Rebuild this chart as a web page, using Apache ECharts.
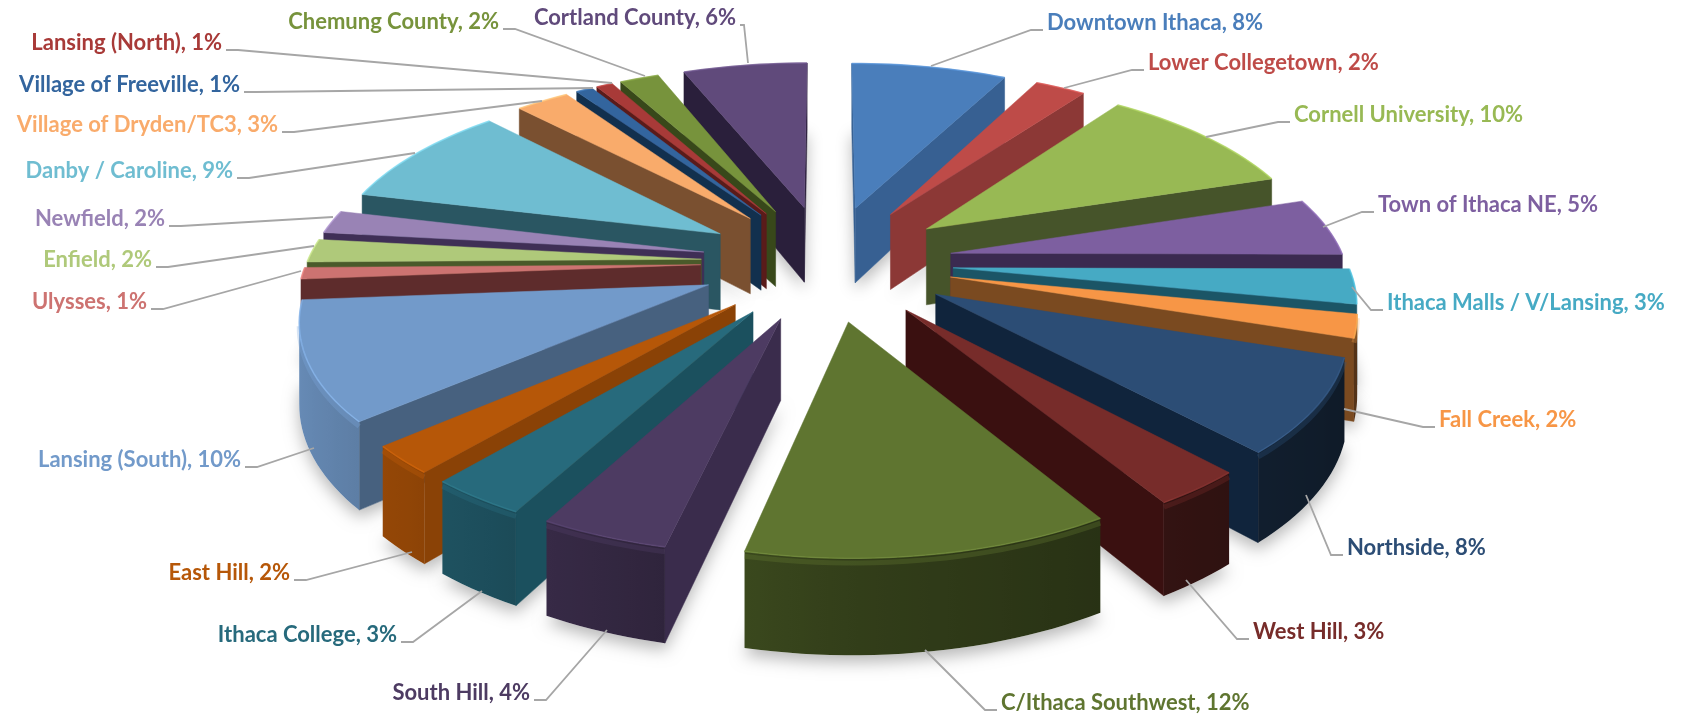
<!DOCTYPE html>
<html><head><meta charset="utf-8">
<style>html,body{margin:0;padding:0;background:#fff}#c{width:1691px;height:716px}</style>
<script src="https://cdn.jsdelivr.net/npm/echarts@6/dist/echarts.min.js"></script></head>
<body><div id="c"></div>
<script>
const categories = ["Downtown Ithaca","Lower Collegetown","Cornell University","Town of Ithaca NE","Ithaca Malls / V/Lansing","Fall Creek","Northside","West Hill","C/Ithaca Southwest","South Hill","Ithaca College","East Hill","Lansing (South)","Ulysses","Enfield","Newfield","Danby / Caroline","Village of Dryden/TC3","Village of Freeville","Lansing (North)","Chemung County","Cortland County"];
const values = [7.5,2.45,10,5,3,2,8,3.1,12.2,4.3,3.3,2.4,10.1,1,2,2,9,2.6,0.8,0.8,1.9,6];
const topColors = ["#4A7EBB","#BE4B48","#98B954","#7D5FA0","#46AAC4","#F79646","#2C4D75","#772C2A","#5F7530","#4D3B62","#276A7C","#B65708","#729ACA","#CD7371","#AFC97A","#9983B5","#6FBDD1","#F9AB6B","#33659E","#A83A38","#77933C","#604A7B"];
const wallColors = ["#376092","#8C3836","#46542A","#3B2A50","#1B5566","#7A4A20","#10243C","#3A1010","#2E3914","#3A2C4C","#1B505E","#8A4206","#47617F","#5E2C2C","#4A5A2A","#3F2F56","#2A5662","#7A5030","#12304E","#5A1B1A","#38481A","#2A1F3B"];
// label layout: x, y, align; leader: where the line meets the slice
const labelPos = [[1047,23,"left"],[1148,63,"left"],[1294,115,"left"],[1378,205,"left"],[1387,303,"left"],[1439,420,"left"],[1347,548,"left"],[1253,632,"left"],[1001,703,"left"],[530,693,"right"],[397,635,"right"],[290,573,"right"],[241,460,"right"],[147,302,"right"],[152,260,"right"],[165,219,"right"],[233,171,"right"],[278,125,"right"],[240,85,"right"],[222,43,"right"],[499,22,"right"],[736,18,"right"]];
const leaderEnds = [[931,66],[1064,88],[1206,137],[1323,227],[1352,287],[1344,409],[1306,495],[1186,580],[925,650],[607,630],[482,591],[412,552],[314,448],[301,271],[314,246],[333,217],[415,153],[542,101],[593,88],[612,83],[645,76],[748,63]];

const view = {cx:827, cy:262, B:394, A:181, p:0.149, h:78, explode:0.32};
const total = values.reduce((a,b)=>a+b,0);
const starts = []; { let s=0; values.forEach(v=>{starts.push(s); s+=v;}); }
const ang = v => v/total*Math.PI*2;
function project(t,r,tm,z){
  const X=r*Math.sin(t)+view.explode*Math.sin(tm), Y=-r*Math.cos(t)-view.explode*Math.cos(tm);
  const s=1/(1-view.p*Y);
  return [view.cx+view.B*X*s, view.cy+view.A*Y*s+view.h*z*s];
}
function area(p){let a=0;for(let i=0;i<p.length;i++){const q=p[(i+1)%p.length];a+=p[i][0]*q[1]-q[0]*p[i][1];}return a;}
function shade(hex,k){
  const n=parseInt(hex.slice(1),16),f=c=>Math.max(0,Math.min(255,Math.round(c*k)));
  return `rgb(${f(n>>16)},${f((n>>8)&255)},${f(n&255)})`;
}
function renderSlice(params,api){
  const i=api.value(1), a0=ang(starts[i]), a1=ang(starts[i]+api.value(0)), tm=(a0+a1)/2;
  const top=topColors[i], wall=wallColors[i], n=Math.max(2,Math.ceil((a1-a0)/0.03));
  const arc=z=>{const r=[];for(let k=0;k<=n;k++)r.push(project(a0+(a1-a0)*k/n,1,tm,z));return r;};
  const at=arc(0), ab=arc(1), apT=project(0,0,tm,0), apB=project(0,0,tm,1), rim=arc(0.05);
  const kids=[];
  kids.push({type:'polygon',shape:{points:[apB,...ab]},style:{fill:'#fff',shadowBlur:16,shadowOffsetY:7,shadowColor:'rgba(0,0,0,0.28)'}});
  const w0=[apT,at[0],ab[0],apB], w1=[apT,at[n],ab[n],apB];
  if(area(w0)<0) kids.push({type:'polygon',shape:{points:w0},style:{fill:wall,stroke:wall,lineWidth:.5}});
  if(area(w1)>0) kids.push({type:'polygon',shape:{points:w1},style:{fill:wall,stroke:wall,lineWidth:.5}});
  const vis=[]; for(let k=0;k<n;k++){ if(area([at[k],at[k+1],ab[k+1],ab[k]])<0) vis.push(k); }
  if(vis.length){
    const k0=vis[0], k1=vis[vis.length-1]+1, idx=[]; for(let k=k0;k<=k1;k++) idx.push(k);
    const xa=at[k0][0], xb=at[k1][0];
    const lit=k=>{const s=Math.sin(a0+(a1-a0)*k/n);return shade(top,0.53-(s>0?0.2:0.38)*s);};
    const stops=idx.map(k=>({offset:Math.max(0,Math.min(1,(at[k][0]-xa)/((xb-xa)||1))),color:lit(k)}));
    const fill=new echarts.graphic.LinearGradient(xa,0,xb,0,stops,true);
    const poly=[...idx.map(k=>at[k]),...idx.slice().reverse().map(k=>ab[k])];
    kids.push({type:'polygon',shape:{points:poly},style:{fill}});
    kids.push({type:'polyline',shape:{points:idx.map(k=>rim[k])},style:{fill:'none',stroke:shade(top,1.1),lineWidth:5,opacity:.3}});
  }
  kids.push({type:'polygon',shape:{points:[apT,...at]},style:{fill:top,stroke:top,lineWidth:.5}});
  kids.push({type:'polyline',shape:{points:at},style:{fill:'none',stroke:shade(top,1.18),lineWidth:1.6,opacity:.7}});
  return {type:'group',children:kids};
}
function renderLabel(params,api){
  const i=api.value(1), [x,y,al]=labelPos[i], dir=al==='left'?-1:1;
  const e1=[x+dir*4,y+7], e2=[x+dir*(i===21?8:16),y+7];
  return {type:'group',children:[
    {type:'polyline',shape:{points:[e1,e2,leaderEnds[i]]},style:{fill:'none',stroke:'#a6a6a6',lineWidth:1.8}},
    {type:'text',style:{x,y,text:categories[i]+', '+Math.round(api.value(0))+'%',fill:topColors[i],font:'700 22px Lato',align:al,verticalAlign:'middle'}}
  ]};
}
const mid = i => -Math.cos(ang(starts[i]+values[i]/2));
const order = values.map((_,i)=>i).sort((a,b)=>mid(a)-mid(b));
const chart = echarts.init(document.getElementById('c'),null,{renderer:'canvas'});
chart.setOption({animation:false,backgroundColor:'#fff',series:[
  {type:'custom',coordinateSystem:'none',renderItem:renderSlice,silent:true,z:1,
   data:order.map(i=>({name:categories[i],value:[values[i],i]}))},
  {type:'custom',coordinateSystem:'none',renderItem:renderLabel,silent:true,z:2,
   data:order.map(i=>({name:categories[i],value:[values[i],i]}))}
]});
</script></body></html>
